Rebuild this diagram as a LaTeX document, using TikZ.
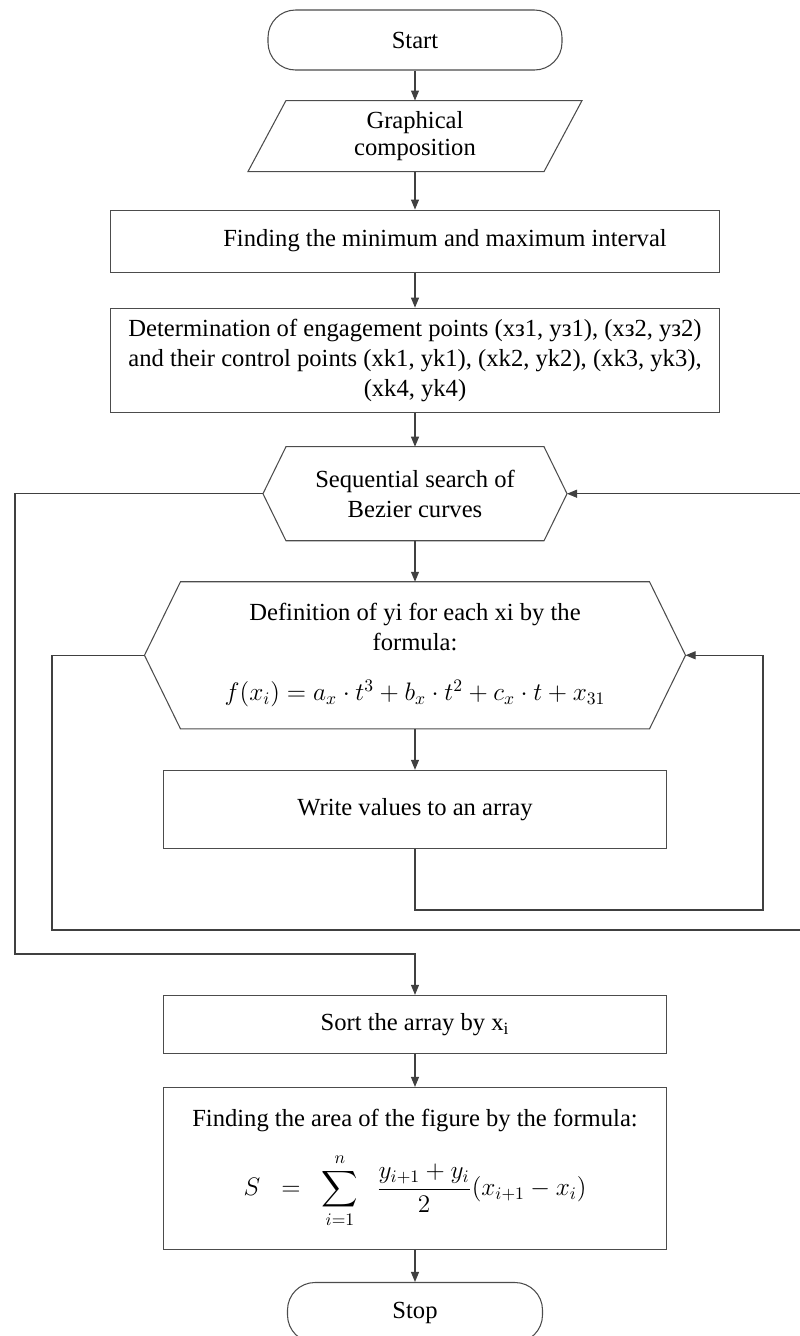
\documentclass[tikz,border=0pt]{standalone}
\usepackage{amsmath}
\usepackage{fontspec}
\setmainfont{Liberation Serif}
\usetikzlibrary{positioning,arrows.meta}

\begin{document}
\begin{tikzpicture}[line width=0.6pt, font=\fontsize{14}{17}\selectfont,
  term/.style={draw=black!70, rounded corners=5.5mm, minimum width=5.88cm, minimum height=1.2cm},
  box/.style={draw=black!70, align=center, minimum width=10.06cm},
  hexa/.style={align=center, inner sep=0pt},
  outline/.style={draw=black!70},
  conn/.style={draw=black!75, -{Triangle[length=2mm,width=1.6mm]}}]
  \useasboundingbox (0,0) rectangle (15.98,-26.72);
  \node[term] (start) at (8.3,-0.8) {Start};
  \node[minimum width=6.66cm, minimum height=1.4cm, align=center, below=0.6cm of start] (comp) {\raisebox{-2mm}{\shortstack{Graphical\\composition}}};
  \draw[outline] ([xshift=0.76cm]comp.north west) -- (comp.north east) -- ([xshift=-0.76cm]comp.south east) -- (comp.south west) -- cycle;
  \node[box, minimum width=12.18cm, minimum height=1.24cm, below=0.76cm of comp] (interval) {\hspace{1.2cm}Finding the minimum and maximum interval};
  \node[box, minimum width=12.18cm, minimum height=2.08cm, below=0.7cm of interval] (points) {Determination of engagement points (xз1, yз1), (xз2, yз2)\\
    and their control points (xk1, yk1), (xk2, yk2), (xk3, yk3),\\ (xk4, yk4)};
  \node[hexa, minimum width=6.06cm, minimum height=1.86cm, below=0.68cm of points] (search) {Sequential search of\\Bezier curves};
  \draw[outline] ([xshift=0.46cm]search.north west) -- ([xshift=-0.46cm]search.north east) -- (search.east)
    -- ([xshift=-0.46cm]search.south east) -- ([xshift=0.46cm]search.south west) -- (search.west) -- cycle;
  \node[hexa, minimum width=10.8cm, minimum height=2.92cm, below=0.82cm of search] (yi) {Definition of yi for each xi by the\\formula:\\[4mm]
    $f(x_i)=a_x\cdot t^3+b_x\cdot t^2+c_x\cdot t+x_{31}$};
  \draw[outline] ([xshift=0.72cm]yi.north west) -- ([xshift=-0.72cm]yi.north east) -- (yi.east)
    -- ([xshift=-0.72cm]yi.south east) -- ([xshift=0.72cm]yi.south west) -- (yi.west) -- cycle;
  \node[box, minimum height=1.56cm, below=0.82cm of yi] (write) {Write values to an array};
  \node[box, minimum height=1.16cm, below=2.92cm of write] (sort) {Sort the array by x\textsubscript{i}};
  \node[box, minimum height=3.24cm, below=0.66cm of sort] (area) {Finding the area of the figure by the formula:\\[4mm]
    $\displaystyle S \;\;=\;\; \sum_{i=1}^{n}\;\; \frac{y_{i+1}+y_i}{2}(x_{i+1}-x_i)$};
  \node[term, minimum width=5.1cm, below=0.64cm of area] (stop) {Stop};
  % main flow
  \draw[conn] (start) -- (comp);
  \draw[conn] (comp) -- (interval);
  \draw[conn] (interval) -- (points);
  \draw[conn] (points) -- (search);
  \draw[conn] (search) -- (yi);
  \draw[conn] (yi) -- (write);
  \draw[conn] (sort) -- (area);
  \draw[conn] (area) -- (stop);
  % loops
  \coordinate (sl) at (0.3,-19.08);
  \draw[conn] (search.west) -| (sl) -| (sort.north);
  \coordinate (ybl) at (1.04,-18.6);
  \coordinate (ybr) at (16.2,-18.6);
  \draw[conn] (yi.west) -| (ybl) -- (ybr) |- (search.east);
  \coordinate (wr) at (15.26,-18.2);
  \draw[conn] (write.south) |- (wr) |- (yi.east);
\end{tikzpicture}
\end{document}
